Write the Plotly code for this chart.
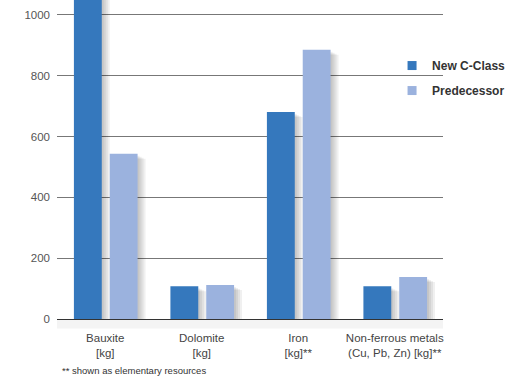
import plotly.graph_objects as go

categories = [
    "Bauxite<br>[kg]",
    "Dolomite<br>[kg]",
    "Iron<br>[kg]**",
    "Non-ferrous metals<br>(Cu, Pb, Zn) [kg]**",
]
new_c_class = [1100, 108, 681, 108]
predecessor = [543, 112, 885, 138]
y_ticks = [0, 200, 400, 600, 800, 1000]

BLUE = "#3578BD"
LIGHT = "#9BB2DE"
FONT = "Liberation Sans, Arial, sans-serif"

# geometry of the bars in category units (one category = 97 px)
CAT_PX = 97.0
BAR_W = 28 / CAT_PX
OFFSETS = {"New C-Class": -31.5 / CAT_PX, "Predecessor": 4.5 / CAT_PX}
Y_PER_PX = 1049 / 319.0

series = [("New C-Class", new_c_class, BLUE), ("Predecessor", predecessor, LIGHT)]

fig = go.Figure()

# soft drop shadows: a few translucent copies nudged right and down
for dx, dy in [(2, 2), (4, 3), (6, 4), (8, 5)]:
    for name, vals, _ in series:
        fig.add_trace(go.Bar(
            x=categories, y=vals, base=-dy * Y_PER_PX,
            width=BAR_W, offset=OFFSETS[name] + dx / CAT_PX,
            marker=dict(color="rgba(0,0,0,0.06)", line=dict(width=0)),
            showlegend=False, hoverinfo="skip"))

for name, vals, col in series:
    fig.add_trace(go.Bar(
        x=categories, y=vals, name=name, width=BAR_W, offset=OFFSETS[name],
        marker=dict(color=col, line=dict(width=0)), showlegend=False))

# legend entries with small square swatches
for name, _, col in series:
    fig.add_trace(go.Scatter(x=[None], y=[None], mode="markers", name=name,
                             legendgroup=name,
                             marker=dict(symbol="square", size=9, color=col)))

# white panel behind the legend hides the upper gridlines
fig.add_shape(type="rect", xref="paper", yref="paper", x0=0.907, x1=1.01,
              y0=0.6, y1=1.0, fillcolor="white", line=dict(width=0), layer="between")
# faint shadow under the baseline
fig.add_shape(type="rect", xref="paper", yref="paper", x0=0.0, x1=1.0,
              y0=-0.03, y1=0.0, fillcolor="#f4f4f4", line=dict(width=0), layer="below")

fig.update_layout(
    width=518, height=377,
    margin=dict(l=57, r=75, t=0, b=58),
    paper_bgcolor="white", plot_bgcolor="white",
    barmode="overlay",
    font=dict(family=FONT, size=11.5, color="#444"),
    xaxis=dict(range=[-0.5, 3.5], showgrid=False, showline=True,
               linecolor="#333", linewidth=1, ticks="",
               ticklabelstandoff=8,
               tickfont=dict(size=11.5, color="#444")),
    yaxis=dict(range=[0, 1049], tickvals=y_ticks, showgrid=True,
               gridcolor="#777", gridwidth=1, zeroline=False,
               ticks="", ticklabelstandoff=6,
               tickfont=dict(size=11.5, color="#555")),
    legend=dict(x=0.868, y=0.84, xanchor="left", yanchor="top",
                bgcolor="rgba(0,0,0,0)", tracegroupgap=6,
                font=dict(size=12, color="#333", family=FONT, weight="bold"),
                itemclick=False),
    annotations=[dict(text="** shown as elementary resources", xref="paper",
                      yref="paper", x=0.008, y=-0.16, xanchor="left",
                      yanchor="middle", showarrow=False,
                      font=dict(size=9.5, color="#333"))],
)

fig.write_html("out.html")
